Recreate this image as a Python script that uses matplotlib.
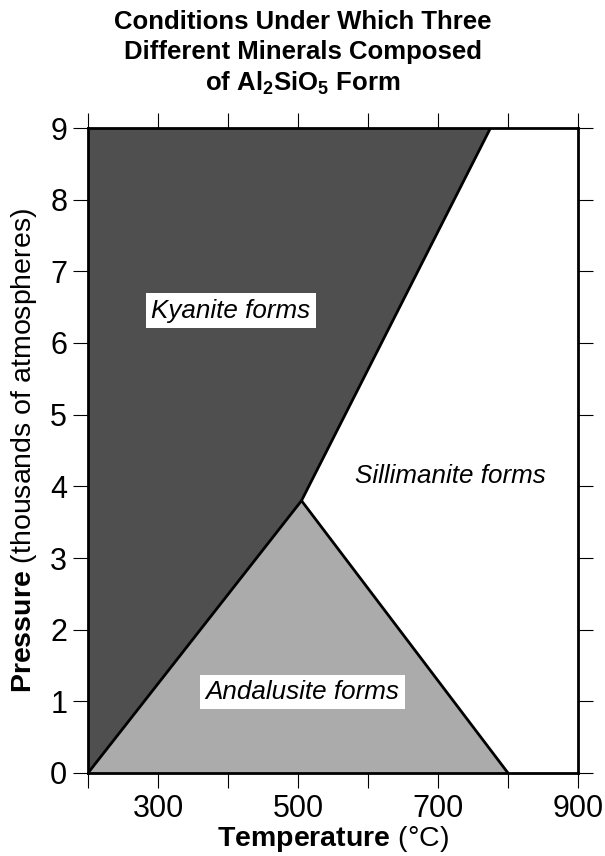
import numpy as np
import matplotlib
matplotlib.use('Agg')
import matplotlib.pyplot as plt

plt.rcParams['font.family'] = ['Liberation Sans', 'DejaVu Sans']
plt.rcParams['mathtext.fontset'] = 'custom'
plt.rcParams['mathtext.rm'] = 'Liberation Sans'
plt.rcParams['mathtext.bf'] = 'Liberation Sans:bold'
plt.rcParams['mathtext.it'] = 'Liberation Sans:italic'

# phase boundaries (temperature in C, pressure in thousands of atm)
triple_T, triple_P = 505, 3.8
ky_and_T = [200, triple_T]
ky_and_P = [0, triple_P]
ky_sil_T = [triple_T, 775]
ky_sil_P = [triple_P, 9]
and_sil_T = [triple_T, 800]
and_sil_P = [triple_P, 0]

x_ticks = [200, 300, 400, 500, 600, 700, 800, 900]
x_labels = ['', '300', '', '500', '', '700', '', '900']
y_ticks = list(range(0, 10))

# region labels
labels = ['Kyanite forms', 'Andalusite forms', 'Sillimanite forms']
label_T = [404, 506, 718]
label_P = [6.45, 1.13, 4.15]

fig = plt.figure(figsize=(6.05, 8.56), dpi=100)
ax = fig.add_axes([88/605, 1-773/856, 490/605, 645/856])

# fills
ax.fill([200] + ky_sil_T + [200], [0] + ky_sil_P + [9], color='#4f4f4f', lw=0, zorder=1)
ax.fill(ky_and_T + [and_sil_T[1]], ky_and_P + [and_sil_P[1]], color='#ababab', lw=0, zorder=1)

for T, P in [(ky_and_T, ky_and_P), (ky_sil_T, ky_sil_P), (and_sil_T, and_sil_P)]:
    ax.plot(T, P, color='black', lw=2, solid_capstyle='butt', zorder=3)

for lab, T, P in zip(labels, label_T, label_P):
    box = None
    if lab != 'Sillimanite forms':
        box = dict(facecolor='white', edgecolor='none', pad=4)
    ax.text(T, P, lab, style='italic', fontsize=18.7, ha='center', va='center',
            bbox=box, zorder=4)

ax.set_xlim(200, 900)
ax.set_ylim(0, 9)
ax.set_xticks(x_ticks)
ax.set_xticklabels(x_labels)
ax.set_yticks(y_ticks)
ax.tick_params(direction='out', length=11, width=0.8, labelsize=22,
               top=True, right=True, pad=4)
for s in ax.spines.values():
    s.set_linewidth(2)
    s.set_zorder(5)

ax.set_xlabel(r'$\mathbf{Temperature}$ (°C)', fontsize=20.5, labelpad=0)
ax.set_ylabel(r'$\mathbf{Pressure}$ (thousands of atmospheres)', fontsize=20.5, labelpad=8)

fig.text(0.5, 1-22/856, 'Conditions Under Which Three', fontsize=18.5,
         fontweight='bold', ha='center', va='center')
fig.text(0.5, 1-52/856, 'Different Minerals Composed', fontsize=18.5,
         fontweight='bold', ha='center', va='center')
fig.text(0.5, 1-83/856, r'of $\mathbf{Al_2SiO_5}$ Form', fontsize=18.5,
         fontweight='bold', ha='center', va='center')

fig.savefig('out.png', dpi=100)
